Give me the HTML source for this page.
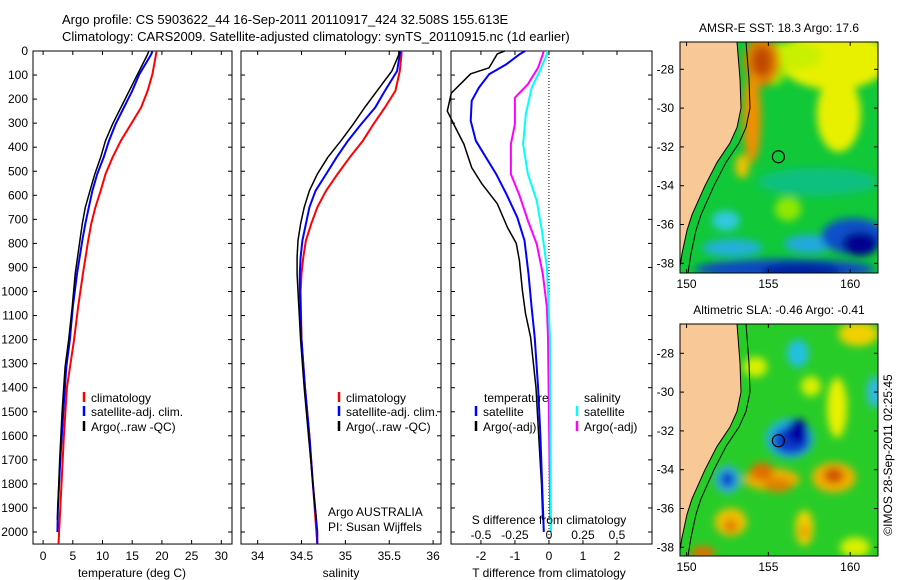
<!DOCTYPE html>
<html><head><meta charset="utf-8">
<style>
html,body{margin:0;padding:0;background:#fff;}
svg{display:block;font-family:"Liberation Sans",sans-serif;}
text{font-size:12px;fill:#000;}
</style></head>
<body>
<svg id="fig" width="900" height="580" viewBox="0 0 900 580" xmlns="http://www.w3.org/2000/svg">
<defs>
<filter id="blur6" x="-50%" y="-50%" width="200%" height="200%"><feGaussianBlur stdDeviation="4"/></filter>
<clipPath id="clipTop"><rect x="680" y="42" width="198" height="231"/></clipPath>
<clipPath id="clipBot"><rect x="680" y="324" width="198" height="232"/></clipPath>
</defs>
<text x="62" y="24" style="font-size:13px">Argo profile: CS 5903622_44 16-Sep-2011 20110917_424 32.508S 155.613E</text>
<text x="62" y="41" style="font-size:13px">Climatology: CARS2009. Satellite-adjusted climatology: synTS_20110915.nc (1d earlier)</text>
<g id="panels"></g>
<g id="maps"></g>
<text transform="translate(892,455) rotate(-90)" text-anchor="middle">©IMOS 28-Sep-2011 02:25:45</text>
</svg>
<script>
// ---- data ----
const tempDepthClim = [0,14,97,166,235,304,373,442,512,581,650,719,788,927,1065,1203,1400,1600,1800,2000,2050];
const tempClim = [19.1,19.0,18.4,17.6,16.5,14.8,13.1,11.7,10.5,9.7,8.8,8.1,7.6,6.7,5.9,5.2,4.0,3.5,3.1,2.7,2.6];
const tempDepthSat = [0,14,97,166,235,304,373,442,512,581,650,719,788,927,1065,1203,1314,1500,1700,1900,2000];
const tempSat = [18.4,18.2,16.2,15.0,13.6,12.2,11.1,10.2,9.1,8.3,7.7,7.1,6.6,5.7,5.0,4.5,3.9,3.4,2.9,2.5,2.4];
const tempDepthArgo = [0,14,97,166,235,304,373,442,512,581,650,719,788,927,1065,1203,1314,1500,1700,1950];
const tempArgo = [17.8,17.6,15.9,14.5,13.1,11.7,10.5,9.7,8.7,7.9,7.1,6.6,6.2,5.4,4.9,4.3,3.7,3.2,2.8,2.4];

const salDepth = [0,14,83,166,235,304,373,442,512,581,650,719,788,858,927,1000,1200,1400,1600,1800,2000,2050];
const salClim = [35.64,35.64,35.62,35.57,35.45,35.32,35.2,35.05,34.91,34.78,34.68,34.61,34.55,34.52,34.5,34.49,34.5,34.54,34.59,34.63,34.67,34.68];
const salSat = [35.63,35.62,35.59,35.45,35.34,35.18,35.03,34.9,34.78,34.66,34.59,34.55,34.51,34.49,34.48,34.48,34.5,34.54,34.59,34.63,34.68,34.68];
const salDepthArgo = [0,14,83,166,235,304,373,442,512,581,650,719,788,858,927,1000,1200,1400,1600,1800,1950];
const salArgo = [35.61,35.61,35.53,35.36,35.22,35.09,34.95,34.8,34.68,34.59,34.53,34.49,34.46,34.45,34.45,34.46,34.49,34.53,34.58,34.63,34.67];

const tdDepthArgo = [0,12,70,95,175,250,318,387,485,552,635,734,800,871,996,1091,1190,1400,1600,1800,1950];
const tdArgo = [-1.3,-1.52,-1.76,-2.3,-2.87,-2.99,-2.75,-2.5,-2.27,-1.97,-1.52,-1.22,-0.96,-0.87,-0.78,-0.69,-0.54,-0.38,-0.3,-0.22,-0.18];
const tdDepthSat = [0,14,55,97,152,207,290,373,429,512,595,692,788,927,1065,1190,1400,1600,1800,2000];
const tdSat = [-0.7,-0.87,-1.25,-1.76,-2.06,-2.27,-2.3,-2.15,-1.91,-1.55,-1.25,-0.93,-0.72,-0.6,-0.51,-0.42,-0.32,-0.25,-0.2,-0.15];
const sdDepthArgo = [0,14,69,138,194,304,387,512,595,705,802,927,1065,1190,1500,1950];
const sdArgo = [-0.04,-0.045,-0.08,-0.155,-0.25,-0.25,-0.28,-0.28,-0.22,-0.155,-0.09,-0.045,-0.015,-0.007,0.0,0.01];
const sdDepthSat = [0,14,83,152,263,387,512,622,747,899,1190,1500,2000];
const sdSat = [-0.01,-0.015,-0.067,-0.127,-0.17,-0.19,-0.155,-0.09,-0.052,-0.015,0.007,0.01,0.015];

const depthTicks = [0,100,200,300,400,500,600,700,800,900,1000,1100,1200,1300,1400,1500,1600,1700,1800,1900,2000];
const tempTicks = [0,5,10,15,20,25,30];
const salTicks = [34,34.5,35,35.5,36];
const tdTicks = [-2,-1,0,1,2];
const sdTicks = [-0.5,-0.25,0,0.25,0.5];
const sdTickLabels = ['-0.5','-0.25','0','0.25','0.5'];
const latTicks = [-28,-30,-32,-34,-36,-38];
const lonTicks = [150,155,160];

// ---- helpers ----
const NS='http://www.w3.org/2000/svg';
const panelsG=document.getElementById('panels');
const mapsG=document.getElementById('maps');
function mk(tag,attrs,parent,txt){const e=document.createElementNS(NS,tag);for(const k in attrs)e.setAttribute(k,attrs[k]);if(txt!==undefined)e.textContent=txt;parent.appendChild(e);return e;}
const yTop=51, yPer=0.2405;
function yD(d){return yTop+d*yPer;}
const yBot=yD(2050);

function panel(name,x0,x1,xmin,xmax){
  const g=mk('g',{},panelsG);
  
  
  const sx=v=>x0+(v-xmin)/(xmax-xmin)*(x1-x0);
  const r=mk('rect',{x:x0,y:yTop,width:x1-x0,height:yBot-yTop,fill:'#fff',stroke:'#000','stroke-width':1},g);
  
  
  depthTicks.forEach(d=>{const y=yD(d);
    mk('line',{x1:x0,x2:x0+4,y1:y,y2:y,stroke:'#000'},g);
    mk('line',{x1:x1,x2:x1-4,y1:y,y2:y,stroke:'#000'},g);});
  return {g,sx};
}
function ticksX(p,x0,x1,vals,labels,name){
  vals.forEach((v,i)=>{const x=p.sx(v);
    mk('line',{x1:x,x2:x,y1:yBot,y2:yBot-4,stroke:'#000'},p.g);
    mk('line',{x1:x,x2:x,y1:yTop,y2:yTop+4,stroke:'#000'},p.g);
    const t=mk('text',{x:x,y:yBot+16,'text-anchor':'middle'},p.g,labels?labels[i]:String(v));
    
    
  });
}
function line(p,xs,ds,color,w,name){
  const pts=xs.map((v,i)=>p.sx(v).toFixed(1)+','+yD(ds[i]).toFixed(1)).join(' ');
  const pl=mk('polyline',{points:pts,fill:'none',stroke:color,'stroke-width':w,'stroke-linejoin':'round'},p.g);
  
  
}
function legendEntry(g,xb,y,color,label,name){
  mk('line',{x1:xb,x2:xb,y1:y-10,y2:y,stroke:color,'stroke-width':2.5},g);
  const t=mk('text',{x:xb+7,y:y},g,label);
  
  
}

depthTicks.forEach(d=>{const t=mk('text',{x:28,y:yD(d)+4,'text-anchor':'end'},panelsG,String(d));
  
  });

const p1=panel('temperature-panel',33,232,-1.7,31.8);
ticksX(p1,33,232,tempTicks,null,'temperature-tick-label');
line(p1,tempClim,tempDepthClim,'#ff0000',2,'temp-climatology-line');
line(p1,tempSat,tempDepthSat,'#0000ff',2,'temp-satellite-line');
line(p1,tempArgo,tempDepthArgo,'#000000',1.5,'temp-argo-line');
legendEntry(p1.g,84,402,'#ff0000','climatology','legend-climatology');
legendEntry(p1.g,84,416,'#0000ff','satellite-adj. clim.','legend-satellite');
legendEntry(p1.g,84,431,'#000000','Argo(..raw -QC)','legend-argo');
mk('text',{x:132,y:577,'text-anchor':'middle'},p1.g,'temperature (deg C)');

const p2=panel('salinity-panel',241,441,33.81,36.09);
ticksX(p2,241,441,salTicks,null,'salinity-tick-label');
line(p2,salClim,salDepth,'#ff0000',2,'sal-climatology-line');
line(p2,salSat,salDepth,'#0000ff',2,'sal-satellite-line');
line(p2,salArgo,salDepthArgo,'#000000',1.5,'sal-argo-line');
legendEntry(p2.g,339,402,'#ff0000','climatology','legend-climatology');
legendEntry(p2.g,339,416,'#0000ff','satellite-adj. clim.','legend-satellite');
legendEntry(p2.g,339,431,'#000000','Argo(..raw -QC)','legend-argo');
mk('text',{x:328,y:516},p2.g,'Argo AUSTRALIA');
mk('text',{x:328,y:531},p2.g,'PI: Susan Wijffels');
mk('text',{x:341,y:577,'text-anchor':'middle'},p2.g,'salinity');

const p3=panel('difference-panel',451,652,-2.88,3.03);
ticksX(p3,451,652,tdTicks,null,'t-diff-tick-label');
const zx=p3.sx(0);
mk('line',{x1:zx,x2:zx,y1:yTop,y2:yBot,stroke:'#000','stroke-dasharray':'1,2'},p3.g);
const sdAsT=v=>v*4;
line(p3,tdArgo,tdDepthArgo,'#000000',1.5,'t-diff-argo-line');
line(p3,tdSat,tdDepthSat,'#0000ff',2,'t-diff-satellite-line');
line(p3,sdArgo.map(sdAsT),sdDepthArgo,'#ff00ff',2,'s-diff-argo-line');
line(p3,sdSat.map(sdAsT),sdDepthSat,'#00ffff',2,'s-diff-satellite-line');
mk('text',{x:484,y:402},p3.g,'temperature');
mk('text',{x:584,y:402},p3.g,'salinity');
legendEntry(p3.g,476,416,'#0000ff','satellite','legend-t-satellite');
legendEntry(p3.g,476,431,'#000000','Argo(-adj)','legend-t-argo');
legendEntry(p3.g,577,416,'#00ffff','satellite','legend-s-satellite');
legendEntry(p3.g,577,431,'#ff00ff','Argo(-adj)','legend-s-argo');
mk('text',{x:549,y:524,'text-anchor':'middle'},p3.g,'S difference from climatology');
sdTicks.forEach((v,i)=>{const t=mk('text',{x:p3.sx(v*4),y:539,'text-anchor':'middle'},p3.g,sdTickLabels[i]);
  
  });
mk('text',{x:549,y:577,'text-anchor':'middle'},p3.g,'T difference from climatology');

// ---- maps ----
const mx0=680,mx1=878,lon0=149.6,lon1=161.7;
const lx=lon=>mx0+(lon-lon0)/(lon1-lon0)*(mx1-mx0);
function map(name,yT,yB,lat28y,clip,title,blobs,base){
  const g=mk('g',{},mapsG);
  
  
  const ly=lat=>lat28y+(-28-lat)*19.4;
  mk('text',{x:779,y:yT-10,'text-anchor':'middle'},g,title);
  const c=mk('g',{'clip-path':'url(#'+clip+')'},g);
  mk('rect',{x:mx0,y:yT,width:mx1-mx0,height:yB-yT,fill:base},c);
  const bg=mk('g',{filter:'url(#blur6)'},c);
  blobs.forEach(b=>mk('ellipse',{cx:lx(b[0]),cy:ly(b[1]),rx:b[2],ry:b[3],fill:b[4]},bg));
  const coast=[[737,yT],[740,ly(-28.5)],[741,ly(-30)],[737,ly(-31)],[730,ly(-31.8)],[717,ly(-32.8)],[705,ly(-34)],[692,ly(-35.5)],[687,ly(-36.3)],[682,ly(-37.5)],[679,yB]];
  const sh=coast.map(p=>(p[0]+9)+','+p[1]).join(' ');
  mk('polyline',{points:sh,fill:'none',stroke:'#000','stroke-width':1},c);
  const land='680,'+yT+' '+coast.map(p=>p[0]+','+p[1]).join(' ')+' 680,'+yB;
  const lp=mk('polygon',{points:land,fill:'#f8c896',stroke:'#000','stroke-width':1},c);
  
  
  const fr=mk('rect',{x:mx0,y:yT,width:mx1-mx0,height:yB-yT,fill:'none',stroke:'#000'},g);
  
  
  latTicks.forEach(l=>{const y=ly(l);
    mk('line',{x1:mx0,x2:mx0+4,y1:y,y2:y,stroke:'#000'},g);
    mk('line',{x1:mx1,x2:mx1-4,y1:y,y2:y,stroke:'#000'},g);
    mk('text',{x:674,y:y+4,'text-anchor':'end'},g,String(l));});
  lonTicks.forEach(l=>{const x=lx(l);
    mk('line',{x1:x,x2:x,y1:yB,y2:yB-4,stroke:'#000'},g);
    mk('line',{x1:x,x2:x,y1:yT,y2:yT+4,stroke:'#000'},g);
    mk('text',{x:x,y:yB+15,'text-anchor':'middle'},g,String(l));});
  const m=mk('circle',{cx:lx(155.613),cy:ly(-32.508),r:6,fill:'none',stroke:'#000','stroke-width':1.2},g);
  
  
}
map('sst-map',42,273,69.3,'clipTop','AMSR-E SST: 18.3 Argo: 17.6',[
 [159,-27.5,55,30,'#e8f000'],[159.3,-30.3,22,38,'#e8f000'],[156.5,-27.3,30,14,'#c8f000'],
 [155.4,-28.2,10,12,'#90e800'],
 [154.6,-27.6,18,25,'#e08000'],[154.6,-27.6,10,15,'#c04800'],
 [154.0,-30.5,9,45,'#f09000'],[153.4,-33,7,12,'#f0c000'],
 [158,-33.8,60,14,'#10c080'],[156.2,-35.2,13,12,'#90e800'],
 [152.4,-35.8,14,10,'#30c8e0'],[152.8,-37.2,30,9,'#20b0d8'],
 [157.5,-37,25,9,'#20a8e0'],
 [160.2,-36.6,32,18,'#1050c8'],[160.6,-37,18,12,'#000090'],
 [156,-38.3,90,10,'#1048c0'],[157,-38.4,40,8,'#0020a0']
],'#10c838');
map('sla-map',324,556,353.3,'clipBot','Altimetric SLA: -0.46 Argo: -0.41',[
 [156.3,-32.4,24,20,'#20b0e0'],[156.4,-32.5,18,14,'#0838c8'],[156.8,-32.0,10,12,'#0000a0'],
 [156.8,-28,11,14,'#20c0e0'],[161.5,-30,8,16,'#30b8e0'],
 [152.5,-34.5,13,14,'#30b0e0'],[152.5,-34.5,7,8,'#0040c8'],
 [155.2,-34.5,28,11,'#f0b000'],[154.6,-34.1,12,9,'#e07000'],[155.6,-34.8,14,7,'#e08000'],
 [159,-34.4,22,15,'#f0b000'],[159,-34.3,10,8,'#d05000'],
 [152.7,-36.7,16,14,'#f0c000'],[152.7,-36.9,7,7,'#e08000'],
 [157.2,-37,9,18,'#f0d000'],[157.2,-37.2,5,8,'#f0a000'],
 [160.5,-27,20,12,'#f0d000'],[159.2,-30.8,10,30,'#e8f000'],
 [151,-38.3,12,7,'#e07000'],[154.2,-28.7,12,10,'#d8f000'],[157.6,-29.7,10,10,'#d8f000'],
 [160.3,-38.0,15,10,'#d8f000']
],'#28cc28');
</script>
</body></html>
